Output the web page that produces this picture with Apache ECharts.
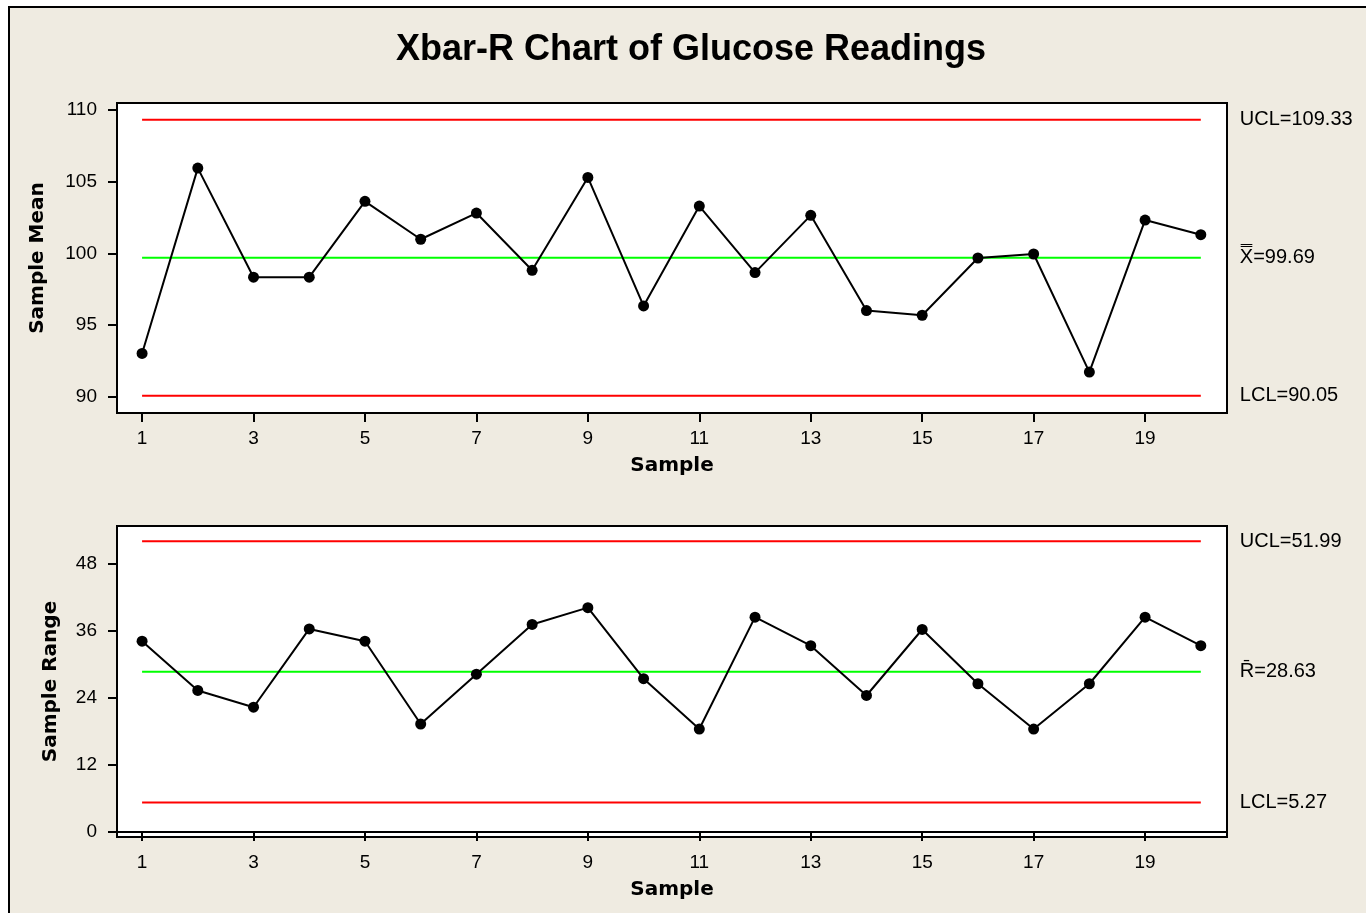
<!DOCTYPE html>
<html>
<head>
<meta charset="utf-8">
<title>Xbar-R Chart of Glucose Readings</title>
<script src="https://cdn.jsdelivr.net/npm/echarts@6/dist/echarts.min.js"></script>
<style>
  html, body { margin: 0; padding: 0; background: #fff; }
  #chart { width: 1366px; height: 913px; }
</style>
</head>
<body>
<div id="chart"></div>
<script>
// sample numbers 1..20
const samples = [1, 2, 3, 4, 5, 6, 7, 8, 9, 10, 11, 12, 13, 14, 15, 16, 17, 18, 19, 20];
const xTicks = [1, 3, 5, 7, 9, 11, 13, 15, 17, 19];

// subgroup means
const sampleMeans = [93.0, 105.95, 98.33, 98.33, 103.63, 100.98, 102.81, 98.81, 105.30, 96.32,
                     103.30, 98.65, 102.65, 96.0, 95.67, 99.67, 99.95, 91.7, 102.32, 101.30];
// subgroup ranges
const sampleRanges = [34.1, 25.3, 22.3, 36.3, 34.1, 19.3, 28.2, 37.1, 40.1, 27.4,
                      18.4, 38.4, 33.3, 24.4, 36.2, 26.5, 18.4, 26.5, 38.4, 33.3];

const meanTicks = [90, 95, 100, 105, 110];
const rangeTicks = [0, 12, 24, 36, 48];

// control limits
const meanUCL = 109.33, meanCL = 99.69, meanLCL = 90.05;
const rangeUCL = 51.99, rangeCL = 28.63, rangeLCL = 5.27;

const FONT = 'Liberation Sans';
const BOLD_FONT = 'DejaVu Sans';

let chart = echarts.init(document.getElementById('chart'));

function limitLine(xi, yi, value, color, label) {
    return {
        type: 'line',
        xAxisIndex: xi,
        yAxisIndex: yi,
        data: [[samples[0], value], [samples[samples.length - 1], value]],
        symbol: 'none',
        silent: true,
        z: 2,
        lineStyle: { color: color, width: 2 },
        endLabel: {
            show: true,
            formatter: label,
            distance: 39,
            fontFamily: FONT,
            fontSize: 20,
            color: '#000'
        }
    };
}

function xAxisFor(gi) {
    return {
        type: 'value',
        gridIndex: gi,
        min: 0.55,
        max: 20.47,
        name: 'Sample',
        nameLocation: 'middle',
        nameGap: 43,
        nameTextStyle: { fontFamily: BOLD_FONT, fontWeight: 'bold', fontSize: 20, color: '#000' },
        axisLine: { show: true, lineStyle: { color: '#000', width: 2 } },
        axisTick: { show: true, length: 9, customValues: xTicks, lineStyle: { color: '#000', width: 2 } },
        axisLabel: { customValues: xTicks, margin: 16, fontFamily: FONT, fontSize: 19, color: '#000' },
        splitLine: { show: false }
    };
}

function yAxisFor(gi, min, max, ticks, name, gap) {
    return {
        type: 'value',
        gridIndex: gi,
        min: min,
        max: max,
        name: name,
        nameLocation: 'middle',
        nameGap: gap,
        nameTextStyle: { fontFamily: BOLD_FONT, fontWeight: 'bold', fontSize: 20, color: '#000' },
        axisLine: { show: true, lineStyle: { color: '#000', width: 2 } },
        axisTick: { show: true, length: 9, customValues: ticks, lineStyle: { color: '#000', width: 2 } },
        axisLabel: { customValues: ticks, margin: 20, fontFamily: FONT, fontSize: 19, color: '#000' },
        splitLine: { show: false }
    };
}

function dataSeries(xi, yi, values) {
    return {
        type: 'line',
        xAxisIndex: xi,
        yAxisIndex: yi,
        data: samples.map((s, i) => [s, values[i]]),
        symbol: 'circle',
        symbolSize: 11,
        z: 5,
        itemStyle: { color: '#000' },
        lineStyle: { color: '#000', width: 2 }
    };
}

let option = {
    animation: false,
    backgroundColor: '#fff',
    title: {
        text: 'Xbar-R Chart of Glucose Readings',
        left: 691,
        top: 32,
        padding: 0,
        textAlign: 'center',
        textStyle: { fontFamily: FONT, fontWeight: 'bold', fontSize: 36, color: '#000' }
    },
    graphic: [{
        type: 'rect',
        z: -1,
        silent: true,
        shape: { x: 9, y: 7, width: 1400, height: 1000 },
        style: { fill: '#EFEBE1', stroke: '#000', lineWidth: 2 }
    }],
    grid: [
        { left: 117, top: 103, width: 1110, height: 310, show: true, backgroundColor: '#fff', borderColor: '#000', borderWidth: 2 },
        { left: 117, top: 526, width: 1110, height: 311, show: true, backgroundColor: '#fff', borderColor: '#000', borderWidth: 2 }
    ],
    xAxis: [xAxisFor(0), xAxisFor(1)],
    yAxis: [
        yAxisFor(0, 88.84, 110.5, meanTicks, 'Sample Mean', 69),
        yAxisFor(1, -0.9, 54.7, rangeTicks, 'Sample Range', 56)
    ],
    series: [
        limitLine(0, 0, meanUCL, '#ff0000', 'UCL=' + meanUCL.toFixed(2)),
        limitLine(0, 0, meanCL, '#00ff00', 'X\u033F=' + meanCL.toFixed(2)),
        limitLine(0, 0, meanLCL, '#ff0000', 'LCL=' + meanLCL.toFixed(2)),
        dataSeries(0, 0, sampleMeans),
        limitLine(1, 1, rangeUCL, '#ff0000', 'UCL=' + rangeUCL.toFixed(2)),
        limitLine(1, 1, rangeCL, '#00ff00', 'R\u0304=' + rangeCL.toFixed(2)),
        limitLine(1, 1, rangeLCL, '#ff0000', 'LCL=' + rangeLCL.toFixed(2)),
        dataSeries(1, 1, sampleRanges)
    ]
};

chart.setOption(option);
</script>
</body>
</html>
